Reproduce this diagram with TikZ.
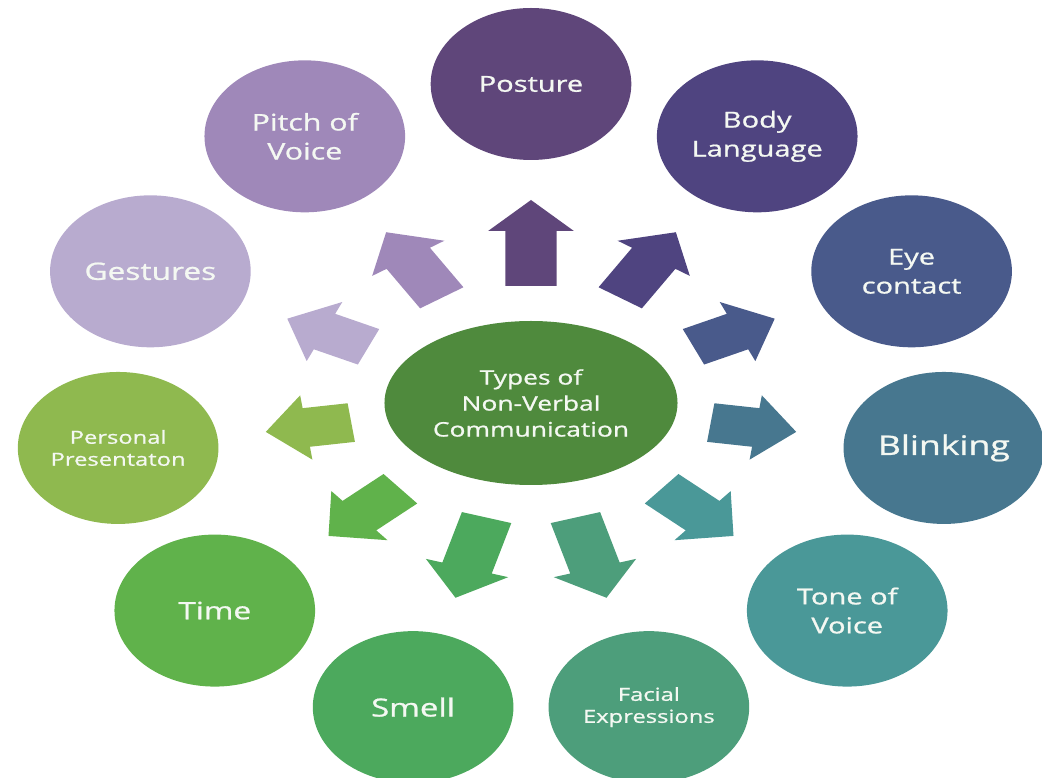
\documentclass[tikz,border=0pt]{standalone}
\usepackage{fontspec}
\setmainfont{Open Sans}
\newfontfamily\medfont[FakeBold=0.8]{Open Sans}
\usetikzlibrary{shapes.geometric}
\definecolor{cPosture}{HTML}{5F467A}
\definecolor{cBody}{HTML}{4F4480}
\definecolor{cEye}{HTML}{495A8B}
\definecolor{cBlink}{HTML}{47778F}
\definecolor{cTone}{HTML}{4A9898}
\definecolor{cFacial}{HTML}{4D9E7B}
\definecolor{cSmell}{HTML}{4CA95D}
\definecolor{cTime}{HTML}{60B24B}
\definecolor{cPersonal}{HTML}{8FB94F}
\definecolor{cGestures}{HTML}{B8ABCF}
\definecolor{cPitch}{HTML}{9F88B9}
\definecolor{cCenter}{HTML}{4F8A3D}
\definecolor{cText}{HTML}{F4F8F2}
\tikzset{
  bub/.style={circle, minimum size=152pt, inner sep=0pt, text=cText, align=center},
  hub/.style={ellipse, minimum width=222pt, minimum height=164pt, inner sep=0pt,
    fill=cCenter, text=cText, align=center, font={\medfont\fontsize{20}{26}\selectfont}},
  fs/.style={font={\medfont\fontsize{#1}{29}\selectfont}},
  fsm/.style={font={\medfont\fontsize{18}{22}\selectfont}}
}
\begin{document}
\begin{tikzpicture}[x=1pt,y=1pt]
\useasboundingbox (0,0) rectangle (1042,777);
\begin{scope}[shift={(531,374)}, xscale=1.32, transform shape]
  % block arrows
  \foreach \a/\c in {90/cPosture, 57.273/cBody, 24.545/cEye, -8.182/cBlink,
      -40.909/cTone, -73.636/cFacial, -106.364/cSmell, -139.091/cTime,
      -171.818/cPersonal, 155.455/cGestures, 122.727/cPitch}{
    \pgfmathsetmacro\L{86/sqrt(1.7424*cos(\a)^2+sin(\a)^2)}
    \begin{scope}[rotate=\a]
      \fill[\c] ({203-\L},-19.5) -- (172,-19.5) -- (172,-32.5) -- (203,0)
        -- (172,32.5) -- (172,19.5) -- ({203-\L},19.5) -- cycle;
    \end{scope}
  }
  \node[hub] (hub) at (0,0) {Types of\\Non-Verbal\\Communication};
  \node[bub, fill=cPosture, fs=22] (posture) at (90:319) {Posture};
  \node[bub, fill=cBody, fs=22] (body) at (57.273:317) {Body\\Language};
  \node[bub, fill=cEye, fs=22] (eye) at (24.545:317) {Eye\\contact};
  \node[bub, fill=cBlink, fs=27] (blink) at (-8.182:316) {Blinking};
  \node[bub, fill=cTone, fs=22] (tone) at (-40.909:317) {Tone of\\Voice};
  \node[bub, fill=cFacial, fsm] (facial) at (-73.636:317) {Facial\\Expressions};
  \node[bub, fill=cSmell, fs=25] (smell) at (-106.364:317) {Smell};
  \node[bub, fill=cTime, fs=24] (time) at (-139.091:317) {Time};
  \node[bub, fill=cPersonal, fsm] (personal) at (-171.818:316) {Personal\\Presentaton};
  \node[bub, fill=cGestures, fs=24] (gestures) at (155.455:317) {Gestures};
  \node[bub, fill=cPitch, fs=23] (pitch) at (122.727:317) {Pitch of\\Voice};
\end{scope}
\end{tikzpicture}
\end{document}
